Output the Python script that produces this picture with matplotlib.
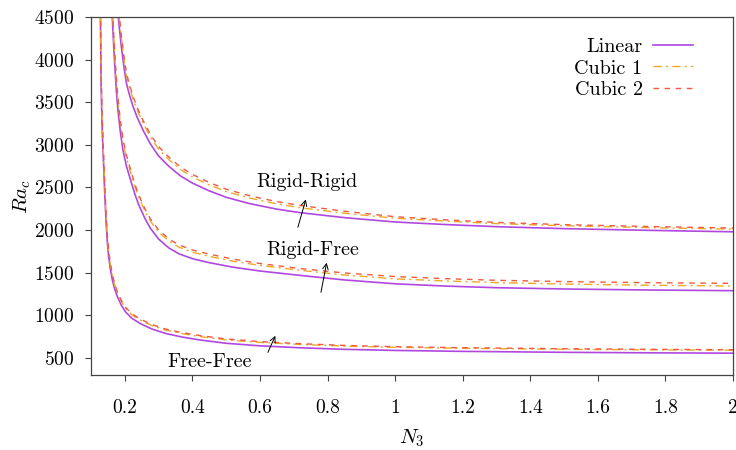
import matplotlib
matplotlib.use("Agg")
import matplotlib.pyplot as plt

plt.rcParams['font.family'] = ['cmr10', 'DejaVu Serif']
plt.rcParams['mathtext.fontset'] = 'cm'
plt.rcParams['axes.formatter.use_mathtext'] = True

# Free-Free
x_ff = [0.126, 0.128, 0.130, 0.133, 0.137, 0.141, 0.145, 0.148, 0.152, 0.157, 0.163, 0.170, 0.178, 0.190,
        0.202, 0.220, 0.245, 0.280, 0.320, 0.370, 0.420, 0.500, 0.600, 0.720, 0.850, 1.000, 1.200, 1.500,
        1.800, 2.000]
ff_lin = [4900, 4500, 3700, 3200, 2800, 2400, 2080, 1880, 1700, 1550, 1420, 1310, 1220, 1118,
          1042, 968, 905, 840, 788, 745, 712, 672, 642, 619, 601, 588, 577, 566, 559, 556]
ff_c1 = [5100, 4680, 3850, 3320, 2900, 2490, 2160, 1950, 1762, 1606, 1472, 1358, 1265, 1161,
         1084, 1009, 945, 880, 828, 785, 752, 712, 682, 658, 639, 625, 613, 601, 594, 591]
ff_c2 = [5130, 4710, 3880, 3350, 2925, 2510, 2178, 1968, 1778, 1620, 1485, 1370, 1277, 1173,
         1096, 1021, 957, 892, 840, 797, 764, 723, 692, 667, 647, 632, 620, 608, 600, 597]

# Rigid-Free
x_rf = [0.162, 0.164, 0.167, 0.170, 0.175, 0.180, 0.187, 0.195, 0.205, 0.217, 0.230, 0.242, 0.260,
        0.276, 0.300, 0.330, 0.360, 0.400, 0.450, 0.520, 0.600, 0.720, 0.850, 1.000, 1.150, 1.300,
        1.500, 1.750, 2.000]
rf_lin = [4600, 4420, 4180, 3960, 3640, 3400, 3150, 2930, 2750, 2590, 2420, 2290, 2135,
          2020, 1895, 1792, 1722, 1665, 1618, 1565, 1520, 1468, 1415, 1370, 1343, 1324, 1309, 1297, 1289]
rf_c1 = [4720, 4540, 4298, 4075, 3752, 3510, 3255, 3030, 2846, 2682, 2510, 2378, 2221,
         2104, 1977, 1872, 1800, 1741, 1692, 1635, 1586, 1528, 1473, 1428, 1403, 1384, 1367, 1353, 1344]
rf_c2 = [4750, 4570, 4328, 4105, 3782, 3540, 3285, 3060, 2876, 2712, 2538, 2405, 2247,
         2130, 2003, 1898, 1826, 1767, 1718, 1660, 1608, 1548, 1497, 1455, 1430, 1411, 1396, 1383, 1375]

# Rigid-Rigid
x_rr = [0.179, 0.181, 0.185, 0.190, 0.197, 0.205, 0.215, 0.225, 0.237, 0.255, 0.276, 0.300, 0.330,
        0.365, 0.400, 0.450, 0.500, 0.570, 0.650, 0.720, 0.850, 1.000, 1.150, 1.300, 1.500, 1.750, 2.000]
rr_lin = [4600, 4500, 4330, 4150, 3930, 3720, 3570, 3445, 3320, 3165, 3010, 2870, 2750,
          2635, 2552, 2460, 2385, 2310, 2246, 2204, 2146, 2095, 2065, 2040, 2017, 1997, 1980]
rr_c1 = [4710, 4610, 4435, 4250, 4025, 3812, 3660, 3533, 3406, 3249, 3092, 2950, 2828,
         2710, 2624, 2530, 2453, 2375, 2308, 2262, 2198, 2139, 2105, 2076, 2051, 2029, 2011]
rr_c2 = [4740, 4640, 4465, 4280, 4055, 3842, 3690, 3563, 3436, 3279, 3122, 2980, 2858,
         2740, 2654, 2558, 2480, 2402, 2334, 2289, 2221, 2157, 2120, 2090, 2064, 2042, 2024]

xticks = [0.2, 0.4, 0.6, 0.8, 1.0, 1.2, 1.4, 1.6, 1.8, 2.0]
xticklabels = ["0.2", "0.4", "0.6", "0.8", "1", "1.2", "1.4", "1.6", "1.8", "2"]
yticks = [500, 1000, 1500, 2000, 2500, 3000, 3500, 4000, 4500]

c_lin = '#b048e0'
c_c1 = '#f0a828'
c_c2 = '#ee5a42'

fig = plt.figure(figsize=(7.36, 4.5), dpi=100)
ax = fig.add_axes([0.1236, 0.1667, 0.8724, 0.7955])

for i, (xs, lin, c1, c2) in enumerate([(x_ff, ff_lin, ff_c1, ff_c2),
                                       (x_rf, rf_lin, rf_c1, rf_c2),
                                       (x_rr, rr_lin, rr_c1, rr_c2)]):
    ax.plot(xs, lin, color=c_lin, lw=1.2, label='Linear' if i == 0 else None)
    ax.plot(xs, c1, color=c_c1, lw=1.0, dashes=(6, 3, 1.5, 3), label='Cubic 1' if i == 0 else None)
    ax.plot(xs, c2, color=c_c2, lw=1.0, dashes=(4, 4), label='Cubic 2' if i == 0 else None)

ax.set_xlim(0.1, 2.0)
ax.set_ylim(300, 4500)
ax.set_xticks(xticks)
ax.set_xticklabels(xticklabels)
ax.set_yticks(yticks)
ax.tick_params(labelsize=14, direction='out', length=4, width=0.8, color='#444444')
ax.tick_params(axis='x', pad=13)
ax.tick_params(axis='y', pad=8)
for s in ax.spines.values():
    s.set_color('#444444')
    s.set_linewidth(0.9)

ax.set_xlabel(r'$N_3$', fontsize=15, labelpad=8)
ax.set_ylabel(r'$Ra_c$', fontsize=15, labelpad=1)

ax.annotate('Rigid-Rigid', xy=(0.738, 2568), fontsize=14.5, ha='center', va='center')
ax.annotate('', xy=(0.738, 2392), xytext=(0.710, 2001),
            arrowprops=dict(arrowstyle='->', color='black', lw=0.7))
ax.annotate('Rigid-Free', xy=(0.755, 1766), fontsize=14.5, ha='center', va='center')
ax.annotate('', xy=(0.799, 1649), xytext=(0.779, 1238),
            arrowprops=dict(arrowstyle='->', color='black', lw=0.7))
ax.annotate('Free-Free', xy=(0.452, 456), fontsize=14.5, ha='center', va='center')
ax.annotate('', xy=(0.649, 789), xytext=(0.620, 535),
            arrowprops=dict(arrowstyle='->', color='black', lw=0.7))

ax.legend(loc='upper right', frameon=False, markerfirst=False, fontsize=14.5,
          handlelength=2.0, handletextpad=0.5, labelspacing=0.15,
          bbox_to_anchor=(0.950, 0.963), borderaxespad=0)

fig.savefig('out.png', dpi=100)
